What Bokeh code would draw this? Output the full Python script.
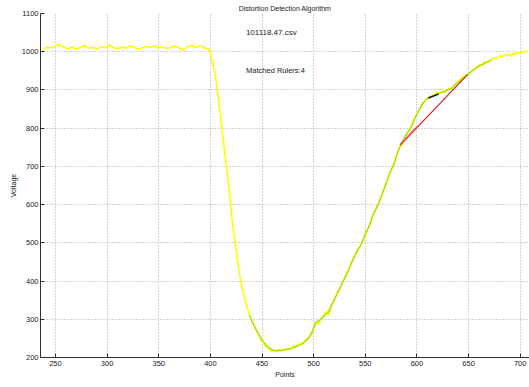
from bokeh.plotting import figure
from bokeh.models import FixedTicker, Label, Range1d
from bokeh.embed import file_html
from bokeh.resources import INLINE

# raw signal (yellow)
raw_x = [238, 242, 246, 250, 254, 258, 262, 266, 270, 274, 278, 282, 286, 290, 294, 298, 302, 306, 310, 314,
         318, 322, 326, 330, 334, 338, 342, 346, 350, 354, 358, 362, 366, 370, 374, 378, 382, 386, 390, 394, 398,
         400, 402, 404, 406, 408, 410, 412, 414, 417, 419, 421, 423, 425, 427, 429, 431, 433, 435, 437, 439,
         441, 443, 445, 447, 449, 451, 453, 455, 457, 459, 461, 463, 465, 467, 469, 471, 473, 475, 477, 479,
         481, 483, 485, 487, 489, 491, 493, 495, 497, 499, 501, 503, 505, 507, 509, 511, 513, 515, 517, 519,
         521, 523, 525, 527, 529, 531, 533, 535, 537, 539, 541, 543, 545, 547, 549, 551, 553, 555, 557, 559,
         561, 563, 565, 567, 569, 571, 573, 575, 577, 579, 581, 583, 585, 587, 589, 591, 593, 595, 597, 599,
         601, 603, 605, 607, 609, 611, 613, 615, 617, 619, 621, 623, 625, 627, 629, 631, 633, 635, 637, 639,
         641, 643, 645, 647, 649, 651, 653, 655, 657, 659, 661, 663, 665, 667, 669, 671, 673, 675, 677, 679,
         681, 683, 685, 687, 689, 691, 693, 695, 697, 699, 701, 703, 705, 707]
raw_v = [1004, 1012, 1010, 1015, 1018, 1012, 1008, 1013, 1006, 1011, 1016, 1009, 1012, 1007, 1014, 1010, 1017, 1011, 1008, 1013,
         1009, 1015, 1012, 1006, 1010, 1014, 1011, 1016, 1009, 1013, 1008, 1012, 1015, 1010, 1004, 1013, 1017, 1011, 1016, 1009, 1008,
         995, 975, 950, 915, 872, 825, 780, 735, 665, 615, 560, 520, 480, 440, 405, 380, 358, 338, 318, 304,
         292, 280, 268, 258, 246, 240, 234, 226, 222, 216, 220, 215, 219, 221, 217, 222, 220, 224, 221, 225,
         232, 228, 233, 237, 234, 243, 248, 252, 262, 270, 282, 292, 288, 302, 306, 316, 320, 312, 338, 345,
         358, 370, 378, 392, 402, 412, 425, 437, 452, 462, 472, 484, 492, 500, 515, 527, 540, 552, 570, 582,
         594, 602, 618, 632, 648, 662, 676, 690, 700, 718, 735, 748, 755, 770, 780, 788, 798, 808, 822, 832,
         842, 852, 862, 870, 876, 880, 882, 884, 888, 893, 891, 895, 897, 893, 900, 904, 903, 910, 913, 920,
         926, 929, 936, 934, 940, 945, 950, 953, 957, 962, 966, 965, 970, 974, 973, 978, 982, 984, 981, 987,
         990, 986, 992, 990, 995, 988, 996, 993, 999, 995, 1000, 997, 1002, 1000]

# smoothed / matched segment (green)
fit_x = [438, 442, 446, 450, 454, 458, 462, 466, 470, 474, 478, 482, 486, 490, 494, 498, 502, 506, 510, 514,
         518, 522, 526, 530, 534, 538, 542, 546, 550, 554, 558, 562, 566, 570, 574, 578, 582, 586, 590, 594,
         598, 602, 606, 610, 614, 618, 622, 626, 630, 634, 638, 642, 646, 650, 654, 658, 662, 666, 670, 672]
fit_v = [308, 285, 264, 246, 232, 223, 218, 218, 219, 221, 223, 227, 232, 238, 247, 262, 292, 298, 308, 318,
         340, 362, 385, 408, 430, 455, 478, 496, 521, 546, 576, 598, 625, 655, 684, 708, 742, 765, 785, 800,
         826, 847, 866, 878, 883, 888, 892, 895, 900, 905, 916, 924, 934, 942, 951, 959, 965, 970, 975, 978]

# rulers
ruler_x = [584, 649]
ruler_v = [756, 940]
ruler2_x = [583, 600]
ruler2_v = [757, 806]
seg_x = [611, 621]
seg_v = [879, 889]

x_ticks = [250, 300, 350, 400, 450, 500, 550, 600, 650, 700]
y_ticks = [200, 300, 400, 500, 600, 700, 800, 900, 1000, 1100]

FONT = "Liberation Sans"

p = figure(width=529, height=387, output_backend="svg", toolbar_location=None,
           x_range=Range1d(235.5, 709), y_range=Range1d(200, 1100),
           min_border_left=40, min_border_right=0, min_border_top=13, min_border_bottom=30)

p.title.text = "Distortion Detection Algorithm"
p.title.text_font = FONT
p.title.text_font_size = "7px"
p.title.text_font_style = "normal"
p.title.text_color = "#202020"
p.title.align = "center"
p.title.offset = 17
p.title.standoff = 4

p.outline_line_color = None
p.background_fill_color = "white"
p.border_fill_color = "white"

for ax in (p.xaxis, p.yaxis):
    ax.major_label_text_font = FONT
    ax.major_label_text_font_size = "7.5px"
    ax.major_label_text_color = "#202020"
    ax.axis_label_text_font = FONT
    ax.axis_label_text_font_size = "7px"
    ax.axis_label_text_font_style = "normal"
    ax.axis_label_text_color = "#202020"
    ax.major_tick_in = 4
    ax.major_tick_out = 0
    ax.minor_tick_line_color = None
    ax.axis_line_color = "#303030"
    ax.major_tick_line_color = "#303030"

p.xaxis.ticker = FixedTicker(ticks=x_ticks)
p.yaxis.ticker = FixedTicker(ticks=y_ticks)
p.xaxis.axis_label = "Points"
p.yaxis.axis_label = "Voltage"
p.xaxis.major_label_standoff = 3
p.xaxis.axis_label_standoff = 2
p.yaxis.major_label_standoff = 2
p.yaxis.axis_label_standoff = 2

for g in (p.xgrid, p.ygrid):
    g.grid_line_color = "#a8a8a8"
    g.grid_line_dash = "1 2"
    g.grid_line_width = 1
p.xgrid.ticker = FixedTicker(ticks=x_ticks)
p.ygrid.ticker = FixedTicker(ticks=y_ticks)

p.line(raw_x, raw_v, line_color="#ffff00", line_width=1.6)
p.line(fit_x, fit_v, line_color="#a0e000", line_width=1.3)
p.line(ruler2_x, ruler2_v, line_color="#ff9090", line_width=1)
p.line(ruler_x, ruler_v, line_color="#e01010", line_width=1.1)
p.line(seg_x, seg_v, line_color="#101030", line_width=1.5)

p.add_layout(Label(x=459, y=1050, text="101118.47.csv", text_font=FONT, text_font_size="8px",
                   text_align="center", text_baseline="middle", text_color="#202020"))
p.add_layout(Label(x=463, y=951, text="Matched Rulers:4", text_font=FONT, text_font_size="7.5px",
                   text_align="center", text_baseline="middle", text_color="#202020"))

open("out.html", "w").write(file_html(p, INLINE))
